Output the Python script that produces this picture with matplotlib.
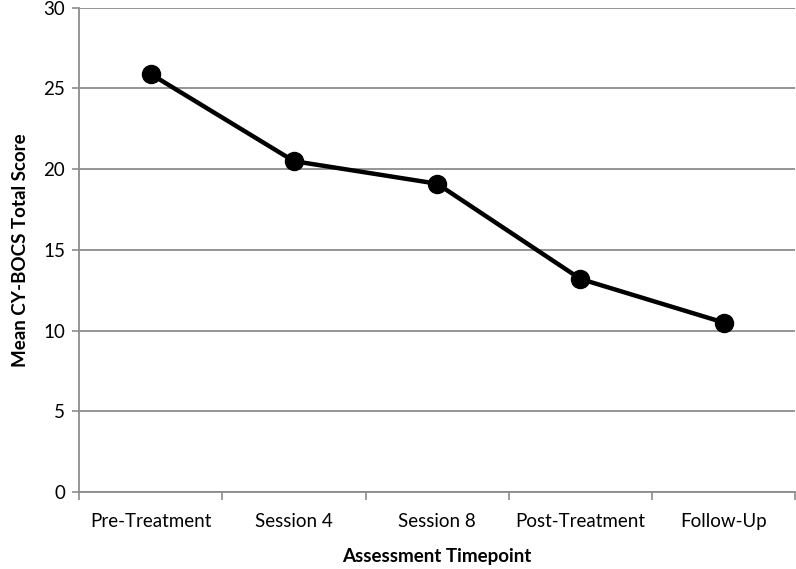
import matplotlib.pyplot as plt
import numpy as np

timepoints = ["Pre-Treatment", "Session 4", "Session 8", "Post-Treatment", "Follow-Up"]
mean_scores = [25.9, 20.5, 19.1, 13.2, 10.5]

plt.rcParams['font.family'] = ['Lato', 'DejaVu Sans']

fig = plt.figure(figsize=(7.96, 5.69), dpi=100)
ax = fig.add_axes([0.0992, 0.1353, 0.9, 0.851])

x = np.arange(len(timepoints))
ax.plot(x, mean_scores, color='black', linewidth=3.2, marker='o', markersize=13,
        zorder=3, clip_on=False)

ax.set_xlim(-0.5, len(timepoints) - 0.5)
ax.set_ylim(0, 30)
ax.set_yticks(range(0, 31, 5))
ax.yaxis.grid(True, color='#8c8c8c', linewidth=1.3)
ax.set_axisbelow(True)

# category labels centred, tick marks on boundaries
ax.set_xticks(x)
ax.set_xticklabels(timepoints, fontsize=13.5)
ax.tick_params(axis='x', which='major', length=0, pad=15)
ax.set_xticks(np.arange(-0.5, len(timepoints)), minor=True)
ax.tick_params(axis='x', which='minor', length=6, color='#8c8c8c', width=1.2)
ax.tick_params(axis='y', length=5, color='#8c8c8c', width=1.2, labelsize=13.5, pad=5)

for side in ['top', 'right']:
    ax.spines[side].set_visible(False)
for side in ['left', 'bottom']:
    ax.spines[side].set_color('#8c8c8c')
    ax.spines[side].set_linewidth(1.3)

ax.set_xlabel("Assessment Timepoint", fontsize=13.5, fontweight='bold', labelpad=13)
ax.set_ylabel("Mean CY-BOCS Total Score", fontsize=13.5, fontweight='bold', labelpad=10)

fig.savefig("out.png", dpi=100)
